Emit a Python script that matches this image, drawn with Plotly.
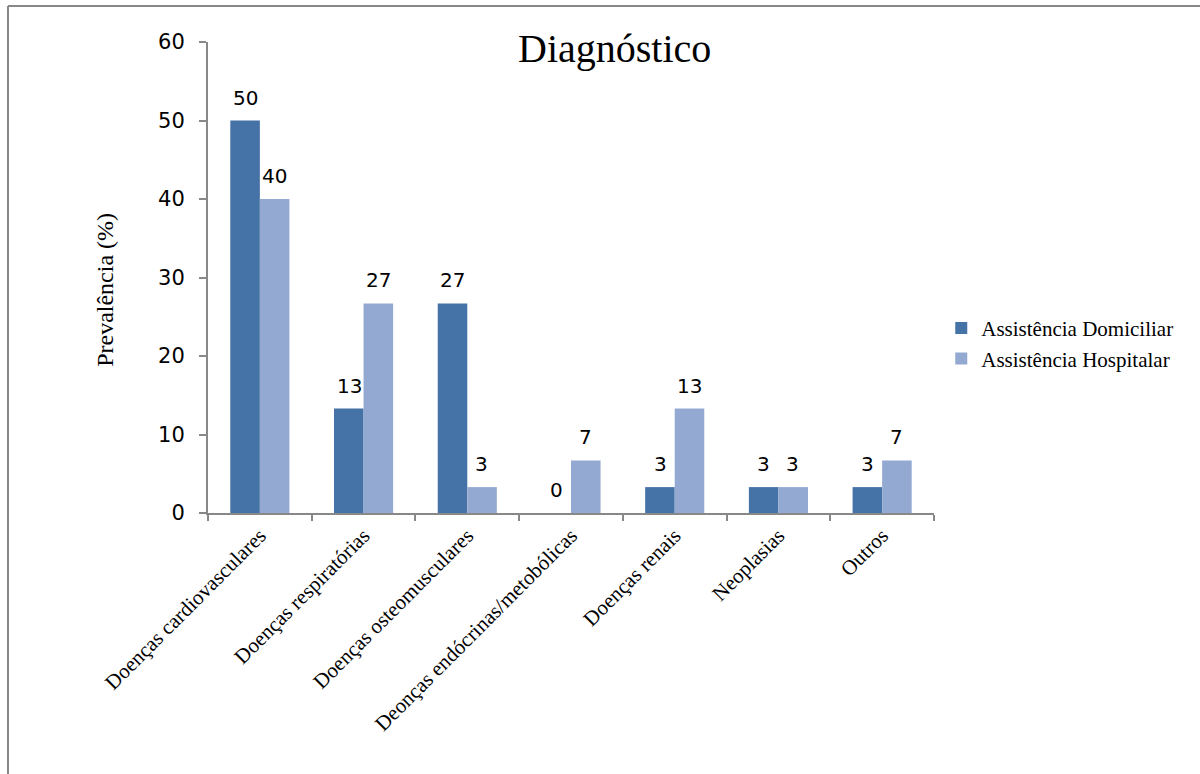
import plotly.graph_objects as go

categories = ["Doenças cardiovasculares", "Doenças respiratórias", "Doenças osteomusculares",
              "Deonças endócrinas/metobólicas", "Doenças renais", "Neoplasias", "Outros"]
domiciliar = [50, 13.3, 26.7, 0, 3.3, 3.3, 3.3]
hospitalar = [40, 26.7, 3.3, 6.7, 13.3, 3.3, 6.7]
series_names = ["Assistência Domiciliar", "Assistência Hospitalar"]
y_ticks = [0, 10, 20, 30, 40, 50, 60]

SERIF = "Liberation Serif, Times New Roman, serif"
SANS = "DejaVu Sans, Verdana, sans-serif"

fig = go.Figure()
annots = []
for name, vals, color, shift in [(series_names[0], domiciliar, "#4572A7", -14.5),
                                 (series_names[1], hospitalar, "#94A9D2", 14.5)]:
    fig.add_trace(go.Bar(
        x=categories, y=vals, name=name, marker_color=color, marker_line_width=0,
    ))
    for c, v in zip(categories, vals):
        annots.append(dict(x=c, y=v, xref="x", yref="y", text=f"{v:.0f}",
                           showarrow=False, xanchor="center", yanchor="bottom",
                           xshift=shift, yshift=9,
                           font=dict(family=SANS, size=20, color="#000")))

fig.update_layout(
    width=1200, height=774,
    margin=dict(l=208, r=266, t=42, b=261),
    paper_bgcolor="white", plot_bgcolor="white",
    barmode="group", bargap=0.43, bargroupgap=0,
    showlegend=True,
    legend=dict(x=1.01, y=0.36, xanchor="left", yanchor="middle",
                font=dict(family=SERIF, size=21, color="#000"),
                itemwidth=30, tracegroupgap=2, bgcolor="rgba(0,0,0,0)"),
    xaxis=dict(showline=True, linecolor="#888", linewidth=2, ticks="outside",
               tickson="boundaries", ticklen=6, tickcolor="#888", tickwidth=2,
               tickangle=-45, tickfont=dict(family=SERIF, size=21, color="#000"),
               showgrid=False),
    yaxis=dict(range=[0, 60], tickvals=y_ticks, showline=True, linecolor="#888",
               linewidth=2, ticks="outside", ticklen=7, tickcolor="#888", tickwidth=2,
               tickfont=dict(family=SANS, size=21, color="#000"), showgrid=False,
               zeroline=False, ticklabelstandoff=10),
    annotations=annots + [
        dict(text="Diagnóstico", x=0.56, y=1.0, xref="paper", yref="paper",
             xanchor="center", yanchor="middle", yshift=-6, showarrow=False,
             font=dict(family=SERIF, size=40, color="#000")),
        dict(text="Prevalência (%)", x=-0.141, y=0.473, xref="paper", yref="paper",
             textangle=-90, showarrow=False, xanchor="center", yanchor="middle",
             font=dict(family=SERIF, size=24, color="#000")),
    ],
    shapes=[
        dict(type="line", xref="paper", yref="paper", x0=-0.2755, x1=1.4,
             y0=1.0764, y1=1.0764, line=dict(color="#888", width=2)),
        dict(type="line", xref="paper", yref="paper", x0=-0.2755, x1=-0.2755,
             y0=1.0764, y1=-0.6, line=dict(color="#888", width=2)),
    ],
)

fig.write_html("out.html")
